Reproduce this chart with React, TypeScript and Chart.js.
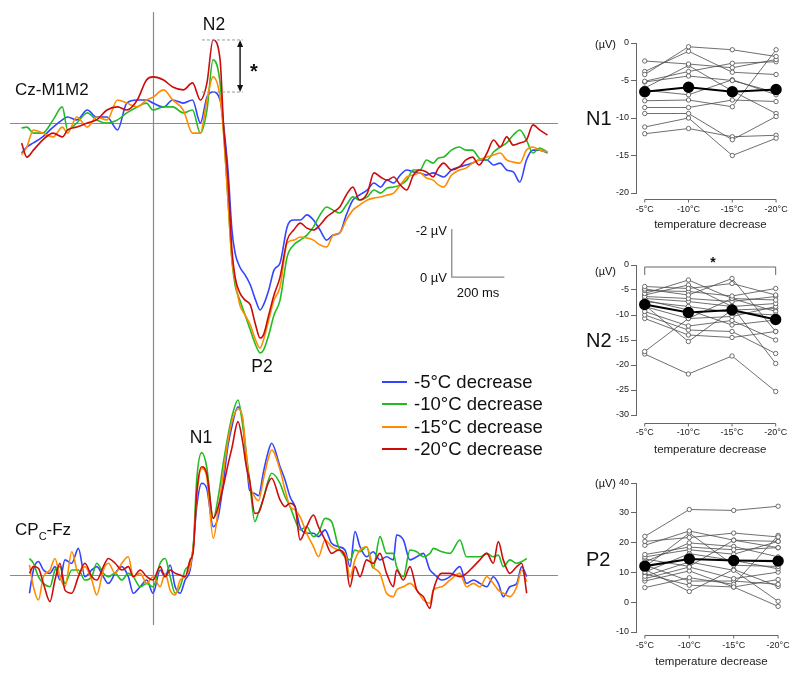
import React, { useEffect, useRef } from "react";
import { Chart, registerables } from "chart.js";

Chart.register(...registerables);
Chart.defaults.font.family = "'Liberation Sans', Arial, sans-serif";

// ---------- waveform data (µV, negative up) ----------
const CONDITIONS = ["-5°C decrease", "-10°C decrease", "-15°C decrease", "-20°C decrease"];
const COLORS = ["#3344ff", "#22bb22", "#ff8c00", "#cc0c0c"];

const TOP_TIMES = [-500, -480, -455, -420, -380, -345, -325, -290, -250, -215, -175, -135, -100, -60, -25, 0, 40, 75, 115, 150, 180, 205, 228, 255, 268, 285, 300, 312, 330, 350, 370, 390, 407, 420, 440, 460, 483, 510, 535, 560, 585, 610, 635, 660, 685, 710, 735, 760, 785, 815, 840, 865, 890, 915, 940, 965, 990, 1015, 1040, 1065, 1085, 1105, 1135, 1165, 1190, 1215, 1240, 1270, 1295, 1320, 1345, 1370, 1395, 1420, 1445, 1470, 1500];
const TOP_BLUE = [1.25, 1.0, 0.83, 0.58, 0.17, -0.13, -0.25, -0.13, -0.54, -0.25, -0.25, 0.29, -0.83, -0.96, -0.96, -0.83, -0.67, -0.96, -0.83, -0.96, 0, -1.08, -1.29, -0.96, 0.08, 1.96, 4.46, 5.42, 6.0, 6.33, 6.75, 7.38, 7.79, 7.58, 6.96, 6.13, 5.83, 4.33, 4.04, 4.04, 3.83, 4.04, 4.46, 4.88, 4.67, 4.58, 3.83, 3.21, 3.0, 2.79, 2.5, 2.67, 2.38, 2.5, 2.17, 1.96, 2.04, 2.08, 2.17, 2.08, 2.17, 2.25, 1.96, 1.83, 1.75, 1.67, 1.54, 1.54, 1.75, 1.67, 1.96, 2.04, 2.46, 1.54, 1.13, 1.13, 1.25];
const TOP_GREEN = [0.21, 0.17, 0.42, 0.42, -0.13, -0.67, 0.29, 0, -0.42, -0.13, 0, -0.13, -0.42, -0.67, -0.83, -0.54, -0.67, -0.67, -0.42, -0.54, 0.42, -0.54, -2.63, -1.67, 0.29, 3.21, 5.71, 6.75, 7.38, 8.0, 8.63, 9.25, 9.58, 9.46, 8.83, 8.0, 7.38, 5.58, 5.08, 4.88, 4.67, 4.33, 3.83, 3.5, 3.63, 3.75, 3.42, 3.08, 3.21, 3.08, 2.79, 2.92, 2.71, 2.67, 2.58, 2.38, 1.96, 1.96, 1.54, 1.67, 1.46, 1.42, 1.13, 1.0, 1.13, 1.13, 1.46, 1.54, 1.21, 1.0, 0.83, 0.5, 0.29, 0.71, 1.25, 1.04, 1.21];
const TOP_ORANGE = [1.33, 1.0, 0.29, 0.42, 0.58, 0.17, 0.42, -0.25, 0.17, -0.25, -0.13, -0.96, -0.83, -0.67, -0.96, -1.08, -1.38, -0.96, -0.54, 0.42, 0.42, -0.96, -1.92, -1.08, 0.42, 3.21, 5.71, 6.54, 7.58, 8.0, 8.42, 9.04, 9.38, 9.04, 8.21, 7.38, 6.83, 5.0, 4.88, 4.75, 4.79, 4.88, 5.08, 5.17, 4.67, 4.58, 4.04, 3.63, 3.42, 3.21, 3.13, 3.08, 3.0, 2.92, 2.58, 2.25, 2.17, 2.08, 2.29, 2.38, 2.58, 2.67, 2.17, 1.96, 1.88, 1.67, 1.54, 1.42, 1.33, 1.25, 1.54, 1.63, 1.67, 1.13, 1.0, 1.13, 1.21];
const TOP_RED = [0.83, 1.42, 1.13, 0.71, 0.42, 0.58, 0.29, 0.17, 0, -0.13, -0.54, -0.67, -0.54, -0.96, -1.79, -1.92, -1.79, -1.5, -1.38, -1.67, -0.96, -1.67, -3.46, -2.63, 0.08, 2.38, 5.29, 6.42, 7.08, 7.38, 7.58, 8.42, 8.96, 8.83, 8.0, 7.17, 6.42, 4.88, 4.46, 4.17, 4.38, 4.46, 4.25, 3.92, 3.71, 3.5, 3.0, 2.67, 3.21, 2.92, 2.08, 2.25, 2.38, 2.25, 2.58, 2.79, 2.17, 1.96, 2.04, 2.25, 1.88, 1.67, 1.96, 1.83, 1.54, 1.42, 1.75, 1.25, 0.71, 1.0, 0.58, 0.92, 0.83, 0.71, 0.08, 0.29, 0.5];

const BOT_TIMES = [-470, -455, -436, -417, -392, -373, -354, -335, -309, -284, -259, -233, -214, -189, -170, -144, -119, -94, -75, -49, -24, 0, 27, 46, 65, 84, 103, 122, 141, 153, 166, 185, 204, 229, 248, 267, 285, 300, 323, 340, 355, 367, 387, 401, 420, 437, 451, 483, 502, 521, 540, 559, 584, 610, 629, 654, 679, 705, 730, 749, 768, 787, 812, 837, 863, 888, 914, 926, 952, 977, 1003, 1028, 1053, 1066, 1098, 1129, 1167, 1192, 1218, 1243, 1269, 1294, 1313, 1332, 1357, 1383, 1402, 1421];
const BOT_BLUE = [0.76, -0.21, -0.56, -0.21, -0.07, -0.35, 0.21, -0.63, -0.49, -1.11, 0.07, -0.21, -0.35, 0.07, 0.35, -0.07, -0.35, 0.07, 0.76, 0.49, 0.21, 0.76, -0.21, 0.07, -0.42, 0.49, 0.76, 0.21, -0.21, -1.18, -2.85, -3.82, -3.61, -2.01, -2.43, -3.82, -5.4, -6.2, -7.01, -6.5, -4.8, -3.54, -3.4, -3.3, -4.3, -5.1, -5.49, -4.51, -3.96, -3.26, -2.85, -2.01, -1.74, -1.74, -1.6, -1.88, -1.32, -1.18, -1.04, -0.35, -1.81, -1.18, -0.76, -0.97, -0.63, -0.76, -0.63, -1.67, -1.46, -0.63, -0.76, -0.9, -0.21, -0.07, 0.21, 0.07, -0.35, 0.35, 0.21, 0.35, 0.49, 0.07, 0.35, 0.9, 0.49, 0.35, -0.35, 0.07];
const BOT_GREEN = [-0.69, -0.49, 0.07, 0.35, 0.49, -0.21, -0.35, 0.35, -0.21, -0.21, 0.21, 0.07, -0.49, -0.07, 0.07, -0.07, 0.21, -0.07, 0.07, 0.49, 0.35, 0.49, -0.49, -0.69, 0.07, 0.76, 0.49, -0.21, -0.49, -1.18, -3.96, -5.1, -4.51, -2.36, -3.26, -4.65, -5.8, -6.6, -7.29, -6.3, -5.0, -3.96, -2.22, -2.6, -3.2, -3.9, -4.24, -3.82, -3.26, -2.85, -2.29, -1.88, -2.01, -1.6, -1.74, -2.36, -2.22, -1.18, -0.76, -0.63, -1.04, -0.97, -1.18, -0.28, -1.6, -0.9, -0.9, -0.35, 0.07, -1.04, -0.97, -0.76, -0.9, -1.11, -0.97, -0.9, -1.46, -0.76, -0.76, -0.76, -0.9, -0.76, -0.83, -0.35, -0.63, -0.49, -0.56, -0.69];
const BOT_ORANGE = [-0.42, 0.49, 1.04, 0.07, -0.21, -0.69, 0.07, 0.49, -0.97, -0.07, -0.35, 0.21, 0.83, -0.21, -0.49, -0.07, -0.49, -0.76, 0.07, -0.07, 0.35, 0.07, 0.49, -0.07, 0.63, 0.83, 0.21, 0.07, -0.35, -1.18, -3.26, -4.44, -4.1, -1.53, -2.71, -4.24, -5.6, -6.4, -6.92, -6.6, -5.0, -3.82, -3.26, -3.1, -4.0, -4.8, -5.21, -4.38, -3.54, -2.85, -2.71, -2.43, -1.74, -1.18, -0.76, -1.46, -1.18, -1.04, -0.9, 0.07, -0.63, -1.04, -1.18, -0.35, -0.07, 0.76, 0.9, 0.63, 0.49, 0.35, 0.63, 1.04, 1.18, 0.63, 0.49, 0.21, -0.07, 0.49, 0.35, 0.49, 0.07, 0.35, 0.63, 0.76, 0.9, 0.49, -0.21, 0.28];
const BOT_RED = [-0.07, -0.35, -0.28, 0.35, 1.11, 0.21, -0.49, 0.63, 0.76, 0.07, -0.49, 0.07, 0.21, -0.35, -0.69, -0.49, -0.21, -0.35, 0.07, -0.21, 0.07, 0.21, -0.35, 0.07, -0.21, -0.07, 0, 0.07, -0.63, -1.0, -3.4, -4.51, -4.24, -2.36, -2.85, -3.68, -4.6, -5.3, -6.39, -5.6, -4.5, -3.96, -2.57, -2.6, -3.2, -3.8, -4.03, -3.13, -2.85, -2.99, -2.85, -1.46, -2.01, -2.5, -2.01, -1.46, -0.9, -1.04, -0.76, 0.49, -0.35, 0.07, -0.63, -0.49, -0.9, -0.07, 0.49, -0.21, 0.21, -0.35, 0.63, 0.9, 1.39, 0.63, -0.07, -0.07, 0.07, -0.07, -0.35, -0.63, -0.9, -0.49, -1.39, -0.63, -0.07, -0.35, -0.49, 0.76];

// ---------- individual amplitudes (µV) ----------
const TEMP_LABELS = ["-5°C", "-10°C", "-15°C", "-20°C"];

const N1_SUBJECTS = [
  [-4.2, -0.5, -0.9, -1.8],
  [-3.8, -1.1, -3.9, -4.2],
  [-2.4, -2.8, -3.3, -2.2],
  [-5.1, -3.8, -2.7, -2.5],
  [-5.2, -4.4, -5.0, -6.6],
  [-7.7, -7.6, -8.5, -0.9],
  [-6.3, -6.9, -4.9, -6.9],
  [-8.6, -8.6, -7.6, -7.8],
  [-9.4, -9.4, -12.9, -9.8],
  [-11.2, -10.0, -15.0, -12.7],
  [-12.1, -11.4, -12.5, -12.3],
  [-6.0, -3.0, -6.4, -9.4],
];
const N1_MEAN = [-6.5, -5.9, -6.5, -6.2];

const N2_SUBJECTS = [
  [-4.3, -4.7, -3.7, -6.0],
  [-4.8, -6.0, -2.7, -13.3],
  [-5.1, -5.3, -6.2, -4.7],
  [-5.7, -3.0, -6.7, -7.0],
  [-6.3, -6.7, -7.3, -6.3],
  [-6.7, -7.3, -8.3, -7.7],
  [-7.3, -8.3, -9.5, -10.0],
  [-8.3, -10.7, -10.3, -8.3],
  [-9.3, -12.2, -11.1, -15.0],
  [-10.0, -13.0, -13.3, -17.7],
  [-10.7, -14.0, -14.5, -13.3],
  [-17.3, -10.7, -6.7, -9.3],
  [-17.8, -21.8, -18.2, -25.3],
  [-6.0, -4.0, -8.3, -19.7],
  [-8.0, -15.3, -9.0, -8.7],
  [-7.0, -9.0, -12.0, -11.0],
];
const N2_MEAN = [-7.9, -9.5, -9.0, -10.9];

const P2_SUBJECTS = [
  [22.1, 31.1, 30.8, 32.2],
  [20.4, 21.7, 23.2, 21.9],
  [19.1, 23.9, 20.8, 20.4],
  [16.0, 18.5, 17.6, 18.3],
  [15.2, 17.6, 16.1, 20.4],
  [13.5, 19.9, 18.7, 15.2],
  [11.8, 23.2, 12.4, 12.0],
  [10.1, 16.3, 14.0, 11.2],
  [8.7, 13.5, 10.7, 0.3],
  [7.9, 11.8, 7.9, 10.1],
  [7.1, 10.5, 5.1, 7.6],
  [4.9, 8.2, 6.0, 22.4],
  [12.5, 7.1, 7.1, 6.0],
  [9.5, 5.7, 5.1, -1.4],
  [11.0, 3.6, 11.0, 5.3],
  [14.5, 12.0, 20.8, 18.3],
];
const P2_MEAN = [12.1, 14.5, 14.0, 13.8];

// ---------- axis ranges ----------
const T_MIN = -544;
const T_MAX = 1540;
const SCALE_T0 = 1136; // scale bar start (ms)
const SCALE_MS = 200;
const SCALE_V0 = 6.42; // scale bar "0 µV" level
const SCALE_UV = 2;
const N2_DASH_FROM = 186;
const N2_DASH_TO = 342;
const N2_ARROW_T = 331;

const zeroLines = {
  id: "zeroLines",
  beforeDatasetsDraw(chart: any) {
    const { ctx, chartArea, scales } = chart;
    const y0 = Math.round(scales.y.getPixelForValue(0)) + 0.5;
    const x0 = Math.round(scales.x.getPixelForValue(0)) + 0.5;
    ctx.save();
    ctx.strokeStyle = "#8a8a8a";
    ctx.lineWidth = 1.2;
    ctx.beginPath();
    ctx.moveTo(chartArea.left, y0);
    ctx.lineTo(chartArea.right, y0);
    ctx.moveTo(x0, chartArea.top);
    ctx.lineTo(x0, chartArea.bottom);
    ctx.stroke();
    ctx.restore();
  },
};

const topAnnotations = {
  id: "topAnnotations",
  afterDatasetsDraw(chart: any) {
    const { ctx, scales } = chart;
    const { x, y } = scales;
    const ya = y.getPixelForValue(Math.min(...TOP_RED));
    const yb = y.getPixelForValue(Math.min(...TOP_BLUE));
    const xa = x.getPixelForValue(N2_DASH_FROM);
    const xb = x.getPixelForValue(N2_DASH_TO);
    ctx.save();
    ctx.strokeStyle = "#999";
    ctx.lineWidth = 1;
    ctx.setLineDash([3, 2]);
    ctx.beginPath();
    ctx.moveTo(xa, ya);
    ctx.lineTo(xb, ya);
    ctx.moveTo(xa, yb);
    ctx.lineTo(xb, yb);
    ctx.stroke();
    ctx.setLineDash([]);
    // double arrow
    const xr = x.getPixelForValue(N2_ARROW_T);
    ctx.strokeStyle = "#111";
    ctx.fillStyle = "#111";
    ctx.lineWidth = 1.4;
    ctx.beginPath();
    ctx.moveTo(xr, ya + 4);
    ctx.lineTo(xr, yb - 4);
    ctx.stroke();
    ctx.beginPath();
    ctx.moveTo(xr, ya);
    ctx.lineTo(xr - 3, ya + 7);
    ctx.lineTo(xr + 3, ya + 7);
    ctx.closePath();
    ctx.fill();
    ctx.beginPath();
    ctx.moveTo(xr, yb);
    ctx.lineTo(xr - 3, yb - 7);
    ctx.lineTo(xr + 3, yb - 7);
    ctx.closePath();
    ctx.fill();
    // scale bar
    const sx0 = x.getPixelForValue(SCALE_T0);
    const sx1 = x.getPixelForValue(SCALE_T0 + SCALE_MS);
    const sy0 = y.getPixelForValue(SCALE_V0);
    const sy1 = y.getPixelForValue(SCALE_V0 - SCALE_UV);
    ctx.strokeStyle = "#8a8a8a";
    ctx.lineWidth = 1.3;
    ctx.beginPath();
    ctx.moveTo(sx0, sy1);
    ctx.lineTo(sx0, sy0);
    ctx.lineTo(sx1, sy0);
    ctx.stroke();
    ctx.restore();
  },
};

function waveConfig(times: number[], series: number[][], yMin: number, yMax: number, extra: any[]) {
  return {
    type: "line",
    data: {
      datasets: series.map((vals, i) => ({
        label: CONDITIONS[i],
        data: times.map((t, k) => ({ x: t, y: vals[k] })),
        borderColor: COLORS[i],
        borderWidth: 1.6,
        pointRadius: 0,
        cubicInterpolationMode: "monotone",
        fill: false,
        order: 3 - i,
      })),
    },
    options: {
      responsive: false,
      animation: false,
      events: [],
      layout: { padding: 0 },
      plugins: { legend: { display: false }, tooltip: { enabled: false } },
      scales: {
        x: { type: "linear", min: T_MIN, max: T_MAX, display: false },
        y: { type: "linear", min: yMin, max: yMax, reverse: true, display: false },
      },
    },
    plugins: [zeroLines, ...extra],
  };
}

function axisPlugin(gap: number, bracket: boolean) {
  return {
    id: "customXAxis",
    afterDraw(chart: any) {
      const { ctx, chartArea, scales } = chart;
      const x = scales.x;
      const ya = chartArea.bottom + gap + 0.5;
      const x0 = x.getPixelForValue(0);
      const x3 = x.getPixelForValue(TEMP_LABELS.length - 1);
      ctx.save();
      ctx.strokeStyle = "#666";
      ctx.lineWidth = 1;
      ctx.beginPath();
      ctx.moveTo(x0, ya);
      ctx.lineTo(x3, ya);
      TEMP_LABELS.forEach((_, i) => {
        const px = x.getPixelForValue(i);
        ctx.moveTo(px, ya);
        ctx.lineTo(px, ya + 3);
      });
      ctx.stroke();
      if (bracket) {
        const yb = chartArea.top + 2;
        ctx.beginPath();
        ctx.moveTo(x0, yb + 8);
        ctx.lineTo(x0, yb);
        ctx.lineTo(x3, yb);
        ctx.lineTo(x3, yb + 8);
        ctx.stroke();
      }
      ctx.restore();
    },
  };
}

function panelConfig(p: any) {
  const pts = (arr: number[]) => arr.map((v, i) => ({ x: i, y: v }));
  return {
    type: "line",
    data: {
      datasets: [
        {
          data: pts(p.mean),
          borderColor: "#000",
          borderWidth: 2.2,
          pointRadius: 4.6,
          pointBackgroundColor: "#000",
          pointBorderColor: "#000",
          order: 0,
          clip: false,
        },
        ...p.subjects.map((s: number[]) => ({
          data: pts(s),
          borderColor: "#4a4a4a",
          borderWidth: 0.8,
          pointRadius: 2.2,
          pointBackgroundColor: "#fff",
          pointBorderColor: "#4a4a4a",
          pointBorderWidth: 0.8,
          order: 1,
          clip: false,
        })),
      ],
    },
    options: {
      responsive: false,
      animation: false,
      events: [],
      layout: { padding: { top: 13, right: 13, left: 0, bottom: 0 } },
      plugins: { legend: { display: false }, tooltip: { enabled: false } },
      scales: {
        x: {
          type: "linear",
          min: -0.2,
          max: 3.2,
          afterBuildTicks: (s: any) => {
            s.ticks = TEMP_LABELS.map((_, i) => ({ value: i }));
          },
          ticks: {
            callback: (v: any) => TEMP_LABELS[Math.round(v)],
            font: { size: 9 },
            color: "#222",
            padding: p.labelPad,
            autoSkip: false,
            maxRotation: 0,
          },
          grid: { display: false, drawTicks: false },
          border: { display: false },
          title: {
            display: true,
            text: "temperature decrease",
            font: { size: 11.5 },
            color: "#222",
            padding: { top: 0, bottom: p.titlePad },
          },
          afterFit: (s: any) => {
            s.height = 45;
          },
        },
        y: {
          type: "linear",
          min: p.min,
          max: p.max,
          ticks: { stepSize: p.step, font: { size: 9 }, color: "#222", padding: 2 },
          grid: { drawOnChartArea: false, drawTicks: true, tickLength: 5, color: "#666" },
          border: { display: true, color: "#666" },
          afterFit: (s: any) => {
            s.width = 46;
          },
        },
      },
    },
    plugins: [axisPlugin(p.axisGap, !!p.bracket)],
  };
}

function ChartCanvas({ make, left, top, width, height }: any) {
  const ref = useRef<HTMLCanvasElement>(null);
  useEffect(() => {
    const chart = new Chart(ref.current as HTMLCanvasElement, make());
    return () => chart.destroy();
  }, []);
  return (
    <canvas
      ref={ref}
      width={width}
      height={height}
      style={{ position: "absolute", left, top, width, height }}
    />
  );
}

function Label({ x, y, size, align = "center", bold = false, children }: any) {
  const tx = align === "center" ? "-50%" : align === "right" ? "-100%" : "0";
  return (
    <div
      style={{
        position: "absolute",
        left: x,
        top: y,
        transform: `translate(${tx}, -50%)`,
        fontSize: size,
        lineHeight: 1,
        whiteSpace: "nowrap",
        fontWeight: bold ? "bold" : "normal",
        color: "#111",
      }}
    >
      {children}
    </div>
  );
}

const LEGEND_ROWS_Y = [382, 404, 427, 449];

export default function App() {
  return (
    <div
      style={{
        position: "absolute",
        left: 0,
        top: 0,
        width: 800,
        height: 679,
        background: "#fff",
        overflow: "hidden",
        fontFamily: "'Liberation Sans', Arial, sans-serif",
      }}
    >
      <ChartCanvas
        left={10}
        top={12}
        width={548}
        height={373}
        make={() => waveConfig(TOP_TIMES, [TOP_BLUE, TOP_GREEN, TOP_ORANGE, TOP_RED], -4.625, 10.917, [topAnnotations])}
      />
      <ChartCanvas
        left={10}
        top={385}
        width={548}
        height={240}
        make={() => waveConfig(BOT_TIMES, [BOT_BLUE, BOT_GREEN, BOT_ORANGE, BOT_RED], -7.917, 2.083, [])}
      />
      <ChartCanvas
        left={590}
        top={30}
        width={210}
        height={208}
        make={() => panelConfig({ subjects: N1_SUBJECTS, mean: N1_MEAN, min: -20, max: 0, step: 5, labelPad: 11.6, titlePad: 6, axisGap: 6 })}
      />
      <ChartCanvas
        left={590}
        top={252}
        width={210}
        height={208}
        make={() => panelConfig({ subjects: N2_SUBJECTS, mean: N2_MEAN, min: -30, max: 0, step: 5, labelPad: 12, titlePad: 3.6, axisGap: 8, bracket: true })}
      />
      <ChartCanvas
        left={590}
        top={470}
        width={210}
        height={207}
        make={() => panelConfig({ subjects: P2_SUBJECTS, mean: P2_MEAN, min: -10, max: 40, step: 10, labelPad: 7.9, titlePad: 8.1, axisGap: 3 })}
      />

      {/* waveform labels */}
      <Label x={15} y={89} size={17} align="left">Cz-M1M2</Label>
      <Label x={214} y={25} size={17.5}>N2</Label>
      <Label x={254} y={71} size={20} bold>*</Label>
      <Label x={262} y={367} size={17.5}>P2</Label>
      <Label x={201} y={438} size={17.5}>N1</Label>
      <Label x={15} y={529} size={17} align="left">
        CP<span style={{ fontSize: 11, position: "relative", top: 5 }}>C</span>-Fz
      </Label>
      <Label x={447} y={230} size={13} align="right">-2 µV</Label>
      <Label x={447} y={277} size={13} align="right">0 µV</Label>
      <Label x={478} y={292} size={13}>200 ms</Label>

      {/* legend */}
      {CONDITIONS.map((c, i) => (
        <React.Fragment key={c}>
          <div
            style={{
              position: "absolute",
              left: 382,
              top: LEGEND_ROWS_Y[i] - 1,
              width: 25,
              height: 2,
              background: COLORS[i],
            }}
          />
          <Label x={414} y={LEGEND_ROWS_Y[i]} size={18.5} align="left">{c}</Label>
        </React.Fragment>
      ))}

      {/* panel labels */}
      <Label x={595} y={44} size={11} align="left">(µV)</Label>
      <Label x={586} y={118} size={20} align="left">N1</Label>
      <Label x={595} y={271} size={11} align="left">(µV)</Label>
      <Label x={586} y={340} size={20} align="left">N2</Label>
      <Label x={713} y={262} size={14} bold>*</Label>
      <Label x={595} y={483} size={11} align="left">(µV)</Label>
      <Label x={586} y={559} size={20} align="left">P2</Label>
    </div>
  );
}
